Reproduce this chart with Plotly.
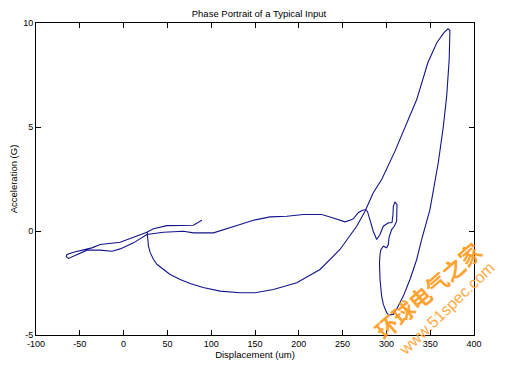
import plotly.graph_objects as go

# Phase portrait trajectory (displacement in um, acceleration in G)
displacement = [
    26.9, 27.5, 28.4, 30.3, 34.1, 38.3, 45.5, 53.1, 64.6, 76.0, 90.8, 110.2, 133.0, 150.1,
    171.0, 197.7, 224.2, 247.0, 266.1, 275.6, 285.0, 294.6, 309.8, 321.2, 334.6, 347.4,
    357.7, 365.7, 370.3, 372.5, 372.5, 371.7, 368.8, 364.8, 359.2, 349.7, 340.2, 334.6,
    326.9, 319.3, 312.1, 307.9, 303.0, 300.3, 296.5, 294.6, 292.7, 292.1, 292.7, 293.8,
    296.5, 300.3, 302.2, 303.0, 306.0, 309.0, 311.7, 312.1, 312.1, 309.8, 307.9, 307.5,
    306.4, 302.2, 296.5, 292.7, 288.9, 285.0, 281.3, 278.4, 276.1, 272.1, 267.9, 262.2,
    258.4, 252.7, 239.4, 226.2, 205.2, 186.3, 167.2, 148.2, 133.0, 121.6, 113.9, 102.5,
    79.7, 68.3, 45.5, 26.6, 11.3, -3.9, -13.3, -26.7, -41.9, -55.2, -62.8, -65.5, -64.7,
    -57.2, -45.8, -36.2, -26.7, -3.9, 11.3, 26.6, 34.1, 49.4, 79.7, 89.3,
]
acceleration = [
    -0.07, -0.41, -0.73, -1.03, -1.37, -1.61, -1.85, -2.09, -2.33, -2.52, -2.72, -2.89, -2.97, -2.97,
    -2.81, -2.49, -1.85, -0.89, 0.23, 0.95, 1.84, 2.48, 3.84, 4.96, 6.32, 8.10,
    9.06, 9.54, 9.72, 9.64, 9.35, 8.25, 6.48, 4.96, 3.28, 1.03, -0.41, -1.37,
    -2.33, -3.13, -3.73, -4.01, -4.04, -3.93, -3.53, -3.13, -2.33, -1.53, -1.13, -0.89,
    -0.73, -0.81, -0.65, -0.31, 0.07, 0.23, 0.47, 0.94, 1.27, 1.40, 1.19, 0.79,
    0.41, 0.39, 0.23, -0.17, -0.41, -0.01, 0.47, 0.94, 1.03, 0.99, 0.88, 0.59,
    0.52, 0.44, 0.63, 0.79, 0.79, 0.71, 0.68, 0.52, 0.31, 0.15, 0.04, -0.09,
    -0.09, -0.01, -0.06, -0.17, -0.57, -0.86, -0.97, -0.92, -0.92, -1.18, -1.32, -1.23, -1.13,
    -1.02, -0.89, -0.81, -0.65, -0.54, -0.30, -0.06, 0.11, 0.26, 0.28, 0.52,
]

x_ticks = [-100, -50, 0, 50, 100, 150, 200, 250, 300, 350, 400]
y_ticks = [-5, 0, 5, 10]

title_text = "Phase Portrait of a Typical Input"
x_title = "Displacement (um)"
y_title = "Acceleration (G)"
watermark_cn = "环球电气之家"
watermark_url = "www.51spec.com"

FONT = "Liberation Sans, Arial, sans-serif"

fig = go.Figure()
fig.add_trace(go.Scatter(
    x=displacement, y=acceleration, mode="lines",
    line=dict(color="#14148C", width=1.1),
    hoverinfo="skip",
))

axis_common = dict(
    showgrid=False, zeroline=False, showline=True, linecolor="black", linewidth=1,
    mirror="ticks", ticks="inside", ticklen=5, tickcolor="black", automargin=False,
    tickfont=dict(family=FONT, size=9, color="black"),
)

W, H = 505, 363
fig.update_layout(
    width=W, height=H,
    margin=dict(l=28, r=39, t=15, b=35.5),
    paper_bgcolor="white", plot_bgcolor="white",
    showlegend=False,
    title=dict(text=title_text, x=0.497, xanchor="center",
               yref="container", y=1 - 6 / H, yanchor="middle",
               font=dict(family=FONT, size=9.5, color="black")),
    xaxis=dict(range=[-100, 400], tickvals=x_ticks, ticktext=[str(v) for v in x_ticks],
               title=dict(text=x_title, standoff=0,
                          font=dict(family=FONT, size=9.5, color="black")),
               **axis_common),
    yaxis=dict(range=[-5, 10], tickvals=y_ticks, ticktext=[str(v) for v in y_ticks],
               title=dict(text=y_title, standoff=13,
                          font=dict(family=FONT, size=9.5, color="black")),
               **axis_common),
)

fig.add_annotation(x=347, y=-2.86, xref="x", yref="y", text="<b>" + watermark_cn + "</b>", showarrow=False,
                   textangle=-41, font=dict(family="Noto Sans CJK SC", size=22, color="#FF9A1A"),
                   opacity=0.9)
fig.add_annotation(x=369, y=-3.73, xref="x", yref="y", text=watermark_url, showarrow=False,
                   textangle=-44, font=dict(family=FONT, size=16, color="#FFA233"),
                   opacity=0.9)

fig.write_html("out.html")
